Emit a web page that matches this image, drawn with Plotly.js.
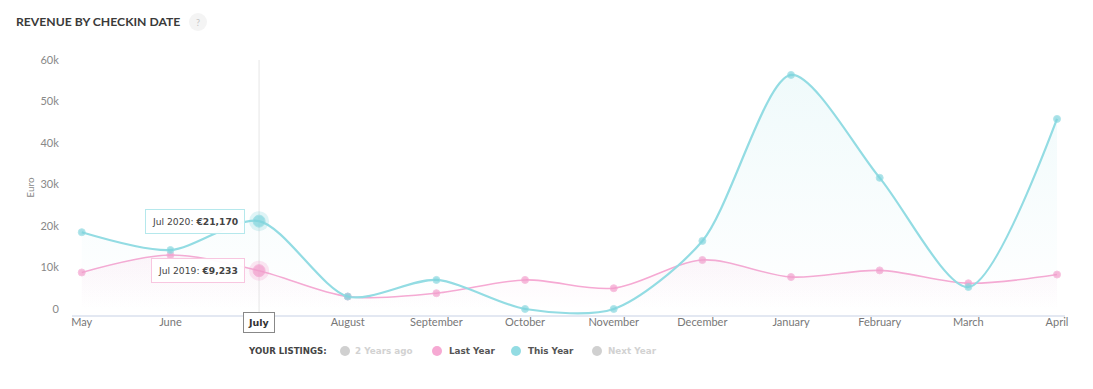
<!DOCTYPE html>
<html><head><meta charset="utf-8">
<script src="https://cdn.plot.ly/plotly-3.0.1.min.js"></script>
<style>html,body{margin:0;padding:0;background:#fff;}#chart{width:1093px;height:389px;}</style>
</head><body><div id="chart"></div>
<script>
const months = ["May","June","July","August","September","October","November","December","January","February","March","April"];
const thisYear = [18500, 14200, 21170, 3000, 7000, 0, 0, 16400, 56400, 31600, 5300, 45800];
const lastYear = [8800, 13000, 9233, 3000, 3800, 7000, 5000, 11800, 7700, 9300, 6200, 8300];
const legendTitle = "YOUR LISTINGS:";
const legendNames = ["2 Years ago", "Last Year", "This Year", "Next Year"];
const highlight = "July";
const tipLabels = ["Jul 2020", "Jul 2019"];

const cyan = "#93dce3", cyanDark = "#7fd4dd";
const pink = "#f6a9d3", pinkDark = "#f39ccb";
const hi = months.indexOf(highlight);
const fmt = v => "€" + v.toLocaleString("en-US");

const mkSizes = months.map((m,i)=> i===hi ? 12 : 7);
const tickText = months.map(m => m === highlight ? "" : m);

const traces = [
  {x: months, y: lastYear, type:"scatter", mode:"lines+markers",
   line:{color:pink, width:1.6, shape:"spline", smoothing:0.9},
   marker:{color:pinkDark, size:mkSizes},
   fill:"tozeroy", fillgradient:{type:"vertical", colorscale:[[0,"rgba(246,169,211,0)"],[1,"rgba(246,169,211,0.12)"]]},
   showlegend:false, hoverinfo:"skip"},
  {x: months, y: thisYear, type:"scatter", mode:"lines+markers",
   line:{color:cyan, width:2.2, shape:"spline", smoothing:0.8},
   marker:{color:cyanDark, size:mkSizes},
   fill:"tozeroy", fillgradient:{type:"vertical", colorscale:[[0,"rgba(147,220,227,0)"],[1,"rgba(147,220,227,0.14)"]]},
   showlegend:false, hoverinfo:"skip"},
  {x:[months[hi]], y:[lastYear[hi]], type:"scatter", mode:"markers",
   marker:{color:"rgba(243,156,203,0.25)", size:20}, showlegend:false, hoverinfo:"skip"},
  {x:[months[hi]], y:[thisYear[hi]], type:"scatter", mode:"markers",
   marker:{color:"rgba(127,212,221,0.25)", size:20}, showlegend:false, hoverinfo:"skip"}
];

const L = 72, R = 28, T = 60, B = 74, W = 1093, H = 389;
const pw = W-L-R, ph = H-T-B;
const px = x => (x-L)/pw;
const py = y => (H-B-y)/ph;

const tipFont = {family:"DejaVu Sans, Verdana, sans-serif", size:9.2, color:"#444"};
const legFont = {family:"DejaVu Sans, Verdana, sans-serif", size:8.8, color:"#555"};

const annotations = [
  {x: months[hi], y: thisYear[hi], xref:"x", yref:"y", showarrow:false, xanchor:"right", yanchor:"middle",
   xshift:-14, text: tipLabels[0] + ": <b>" + fmt(thisYear[hi]) + "</b>", font:tipFont,
   bgcolor:"rgba(255,255,255,0.95)", bordercolor:"#b5e8ec", borderwidth:1, borderpad:6},
  {x: months[hi], y: lastYear[hi], xref:"x", yref:"y", showarrow:false, xanchor:"right", yanchor:"middle",
   xshift:-14, text: tipLabels[1] + ": <b>" + fmt(lastYear[hi]) + "</b>", font:tipFont,
   bgcolor:"rgba(255,255,255,0.95)", bordercolor:"#f8c6e0", borderwidth:1, borderpad:6},
  {x: months[hi], y: 0, xref:"x", yref:"paper", showarrow:false, xanchor:"center", yanchor:"top",
   yshift:3, text:"<b>"+highlight+"</b>", font:{family:"DejaVu Sans, Verdana, sans-serif", size:9.5, color:"#333"},
   bgcolor:"#fff", bordercolor:"#888", borderwidth:1, borderpad:4},
  {x: px(198), y: py(22), xref:"paper", yref:"paper", showarrow:false, xanchor:"center", yanchor:"middle", text:"?",
   font:{family:"Lato, sans-serif", size:9, color:"#c4c4c4"}},
  {x: px(246), y: py(351), xref:"paper", yref:"paper", showarrow:false, xanchor:"left", yanchor:"middle",
   text:"<b>"+legendTitle+"</b>", font:{family:"DejaVu Sans, Verdana, sans-serif", size:8.6, color:"#444"}},
  {x: px(353), y: py(351), xref:"paper", yref:"paper", showarrow:false, xanchor:"left", yanchor:"middle",
   text:"<b>"+legendNames[0]+"</b>", font:Object.assign({}, legFont, {color:"#d2d2d2"})},
  {x: px(447), y: py(351), xref:"paper", yref:"paper", showarrow:false, xanchor:"left", yanchor:"middle",
   text:"<b>"+legendNames[1]+"</b>", font:legFont},
  {x: px(526), y: py(351), xref:"paper", yref:"paper", showarrow:false, xanchor:"left", yanchor:"middle",
   text:"<b>"+legendNames[2]+"</b>", font:legFont},
  {x: px(606), y: py(351), xref:"paper", yref:"paper", showarrow:false, xanchor:"left", yanchor:"middle",
   text:"<b>"+legendNames[3]+"</b>", font:Object.assign({}, legFont, {color:"#d2d2d2"})}
];

const circ = (cx, cy, r, color) => ({type:"circle", xref:"paper", yref:"paper", xsizemode:"pixel", ysizemode:"pixel",
  xanchor:px(cx), yanchor:py(cy), x0:-r, x1:r, y0:-r, y1:r, fillcolor:color, line:{width:0}, layer:"below"});

const shapes = [
  {type:"line", xref:"x", yref:"paper", x0:months[hi], x1:months[hi], y0:0, y1:1, line:{color:"#e6e6e6", width:1}, layer:"below"},
  circ(198, 22, 9, "#f4f4f4"),
  circ(345, 351, 5, "#d0d0d0"),
  circ(437, 351, 5, "#f6a9d3"),
  circ(516, 351, 5, "#93dce3"),
  circ(597, 351, 5, "#d0d0d0")
];

const layout = {
  width: W, height: H,
  margin:{l:L, r:R, t:T, b:B},
  paper_bgcolor:"#fff", plot_bgcolor:"#fff",
  title:{text:"<b>REVENUE BY CHECKIN DATE</b>", x:16/W, xref:"container", xanchor:"left", y:1-22/H, yref:"container", yanchor:"middle",
    font:{family:"Lato, sans-serif", size:12.2, color:"#3a3a3a"}},
  xaxis:{type:"category", range:[-0.11, 11.09], showgrid:false, zeroline:false,
    tickvals: months, ticktext: tickText, ticklabelstandoff:-4,
    showline:true, linecolor:"#e3e8f2", linewidth:1.5,
    ticks:"", tickfont:{family:"Lato, sans-serif", size:11, color:"#777"}, fixedrange:true},
  yaxis:{range:[-1450,60000], tickvals:[0,10000,20000,30000,40000,50000,60000], tickformat:"~s",
    showgrid:false, zeroline:false, showline:false,
    ticks:"outside", ticklen:10, tickcolor:"rgba(0,0,0,0)",
    tickfont:{family:"Lato, sans-serif", size:11, color:"#888"},
    title:{text:"Euro", font:{family:"Lato, sans-serif", size:10, color:"#888"}, standoff:3}, fixedrange:true},
  annotations, shapes, showlegend:false
};

Plotly.newPlot("chart", traces, layout, {displayModeBar:false, staticPlot:true});
</script></body></html>
